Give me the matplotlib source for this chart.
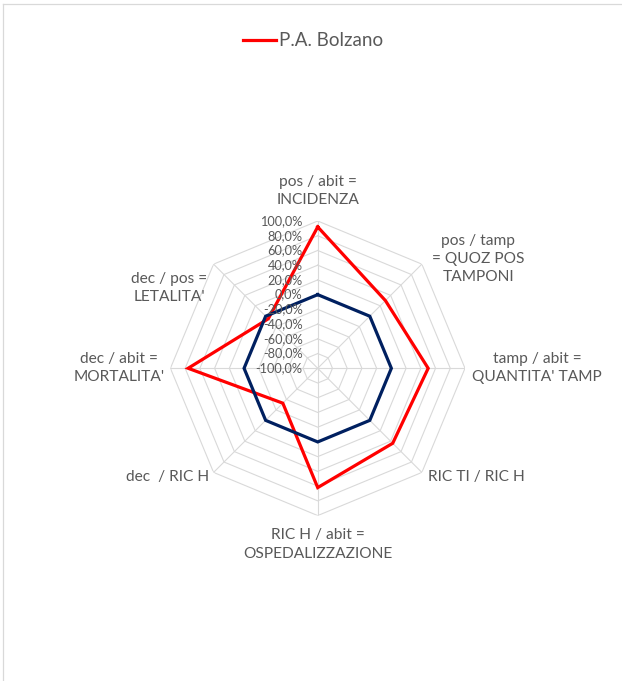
import numpy as np
import matplotlib.pyplot as plt
from matplotlib.lines import Line2D

plt.rcParams["font.family"] = ["Lato", "DejaVu Sans"]

# categories clockwise from the top
categories = [
    "pos / abit =\nINCIDENZA",
    "pos / tamp\n= QUOZ POS\nTAMPONI",
    "tamp / abit =\nQUANTITA' TAMP",
    "RIC TI / RIC H",
    "RIC H / abit =\nOSPEDALIZZAZIONE",
    "dec  / RIC H",
    "dec / abit =\nMORTALITA'",
    "dec / pos =\nLETALITA'",
]
bolzano = [92.0, 30.0, 50.0, 44.0, 62.0, -33.0, 76.0, -5.0]
italia = [0.0, 0.0, 0.0, 0.0, 0.0, 0.0, 0.0, 0.0]
ticks = [-100, -80, -60, -40, -20, 0, 20, 40, 60, 80, 100]

# label placement (offset pixels from spoke end, ha)
label_pos = [
    ((0, 30), "center"),
    ((10, 5), "left"),
    ((7, 0), "left"),
    ((6, -5), "left"),
    ((0, -29), "center"),
    ((-4, -5), "right"),
    ((-6, 0), "right"),
    ((-6, -24), "right"),
]

GRID = "#d9d9d9"
TXT = "#595959"
RED = "#ff0000"
NAVY = "#002060"

fig = plt.figure(figsize=(6.22, 6.81), dpi=100)
ax = fig.add_axes([0.274, 0.2429, 0.4736, 0.4326], projection="polar")
ax.set_theta_zero_location("N")
ax.set_theta_direction(-1)
ax.set_ylim(0, 200)
ax.axis("off")

n = len(categories)
theta = np.linspace(0, 2 * np.pi, n, endpoint=False)
theta_c = np.append(theta, theta[0])

# polygon grid
for t in ticks[1:]:
    r = t + 100
    ax.plot(theta_c, [r] * (n + 1), color=GRID, lw=0.8, zorder=1)
for th in theta:
    ax.plot([th, th], [0, 200], color=GRID, lw=0.8, zorder=1)

def close(vals):
    v = [x + 100 for x in vals]
    return v + v[:1]

ax.plot(theta_c, close(bolzano), color=RED, lw=2.3, zorder=3, solid_joinstyle="miter")
ax.plot(theta_c, close(italia), color=NAVY, lw=2.3, zorder=4, solid_joinstyle="miter")

# radial tick labels
for t in ticks:
    lab = ("%.1f%%" % t).replace(".", ",")
    ax.annotate(lab, xy=(0, t + 100), xytext=(-15, 0), textcoords="offset pixels",
                ha="right", va="center", fontsize=9.2, color=TXT, zorder=6,
                annotation_clip=False)

# category labels
for th, lab, (off, ha) in zip(theta, categories, label_pos):
    ax.annotate(lab, xy=(th, 200), xytext=off, textcoords="offset pixels",
                ha=ha, va="center", multialignment="center", fontsize=11.2,
                color=TXT, linespacing=1.38, annotation_clip=False)

handle = Line2D([], [], color=RED, lw=2.3)
fig.legend(handles=[handle], labels=["P.A. Bolzano"], loc="center",
           bbox_to_anchor=(0.503, 0.94), frameon=False, fontsize=13.5,
           handlelength=1.8, handletextpad=0.15, labelcolor=TXT)

# chart border (top and left edges)
fig.add_artist(Line2D([2.7 / 622, 1], [1 - 4.3 / 681, 1 - 4.3 / 681],
                      transform=fig.transFigure, color=GRID, lw=0.9))
fig.add_artist(Line2D([2.7 / 622, 2.7 / 622], [0, 1 - 4.3 / 681],
                      transform=fig.transFigure, color=GRID, lw=0.9))

fig.savefig("out.png", dpi=100, facecolor="white")
